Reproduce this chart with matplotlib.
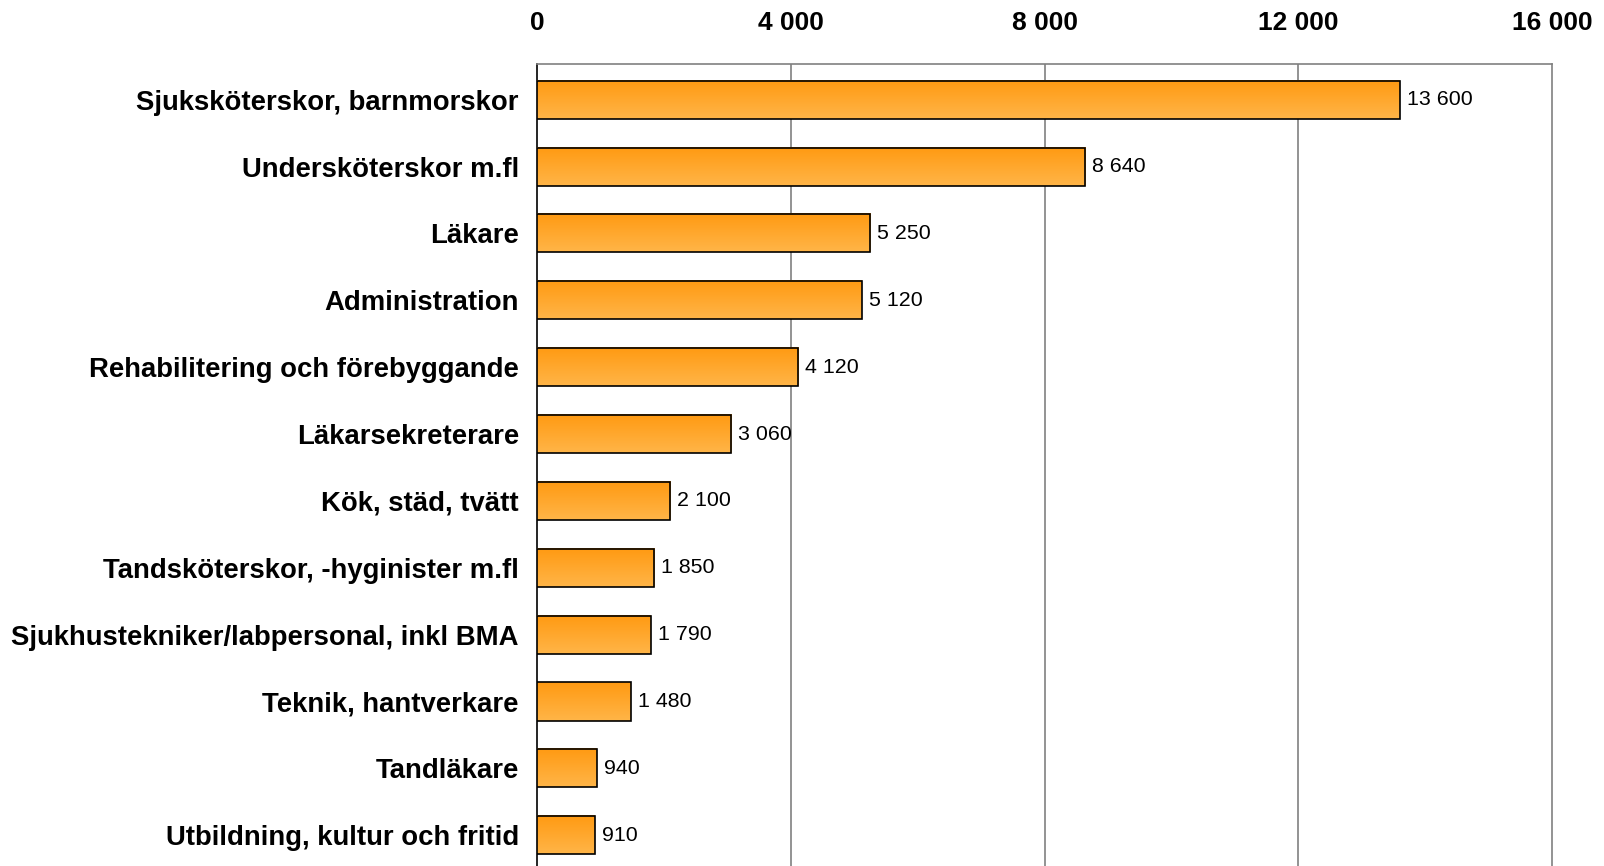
import numpy as np
import matplotlib
matplotlib.use("Agg")
import matplotlib.pyplot as plt
from matplotlib.colors import to_rgb

categories = [
    "Sjuksköterskor, barnmorskor",
    "Undersköterskor m.fl",
    "Läkare",
    "Administration",
    "Rehabilitering och förebyggande",
    "Läkarsekreterare",
    "Kök, städ, tvätt",
    "Tandsköterskor, -hyginister m.fl",
    "Sjukhustekniker/labpersonal, inkl BMA",
    "Teknik, hantverkare",
    "Tandläkare",
    "Utbildning, kultur och fritid",
]
values = [13600, 8640, 5250, 5120, 4120, 3060, 2100, 1850, 1790, 1480, 940, 910]
xticks = [0, 4000, 8000, 12000, 16000]
xtick_labels = ["0", "4 000", "8 000", "12 000", "16 000"]

plt.rcParams['font.family'] = ['Liberation Sans', 'DejaVu Sans']

fig = plt.figure(figsize=(16.04, 8.66), dpi=100)
ax = fig.add_axes([537/1604, 1 - 868/866, (1552-537)/1604, (868-64)/866])

top_c = np.array(to_rgb('#FF9A12'))
bot_c = np.array(to_rgb('#FFB548'))
grad = np.linspace(0, 1, 64)[:, None, None]
grad_img = top_c * (1 - grad) + bot_c * grad
grad_img = np.repeat(grad_img, 2, axis=1)

h = 0.57
ypos = np.arange(len(categories))
for i, v in zip(ypos, values):
    ax.imshow(grad_img, extent=(0, v, i + h/2, i - h/2), origin='upper',
              aspect='auto', zorder=3, interpolation='bilinear')
ax.barh(ypos, values, height=h, facecolor='none', edgecolor='black',
        linewidth=1.2, zorder=4)

for i, v in zip(ypos, values):
    s = f"{v:,}".replace(",", " ")
    ax.text(v + 110, i, s, va='center', ha='left', fontsize=15.4, zorder=5)

ax.set_xlim(0, 16000)
ax.set_ylim(11.49, -0.534)
ax.set_xticks(xticks)
ax.set_xticklabels(xtick_labels, fontsize=19, fontweight='bold')
ax.xaxis.tick_top()
ax.tick_params(axis='x', length=0, pad=21)
ax.set_yticks(ypos)
ax.set_yticklabels(categories, fontsize=19.8, fontweight='bold')
ax.tick_params(axis='y', length=0, pad=13)

for x in xticks[1:-1]:
    ax.axvline(x, color='#808080', linewidth=1.2, zorder=1)

ax.spines['left'].set_color('black')
ax.spines['left'].set_linewidth(1.2)
for sp in ['top', 'right', 'bottom']:
    ax.spines[sp].set_color('#808080')
    ax.spines[sp].set_linewidth(1.2)

fig.savefig("out.png", dpi=100)
